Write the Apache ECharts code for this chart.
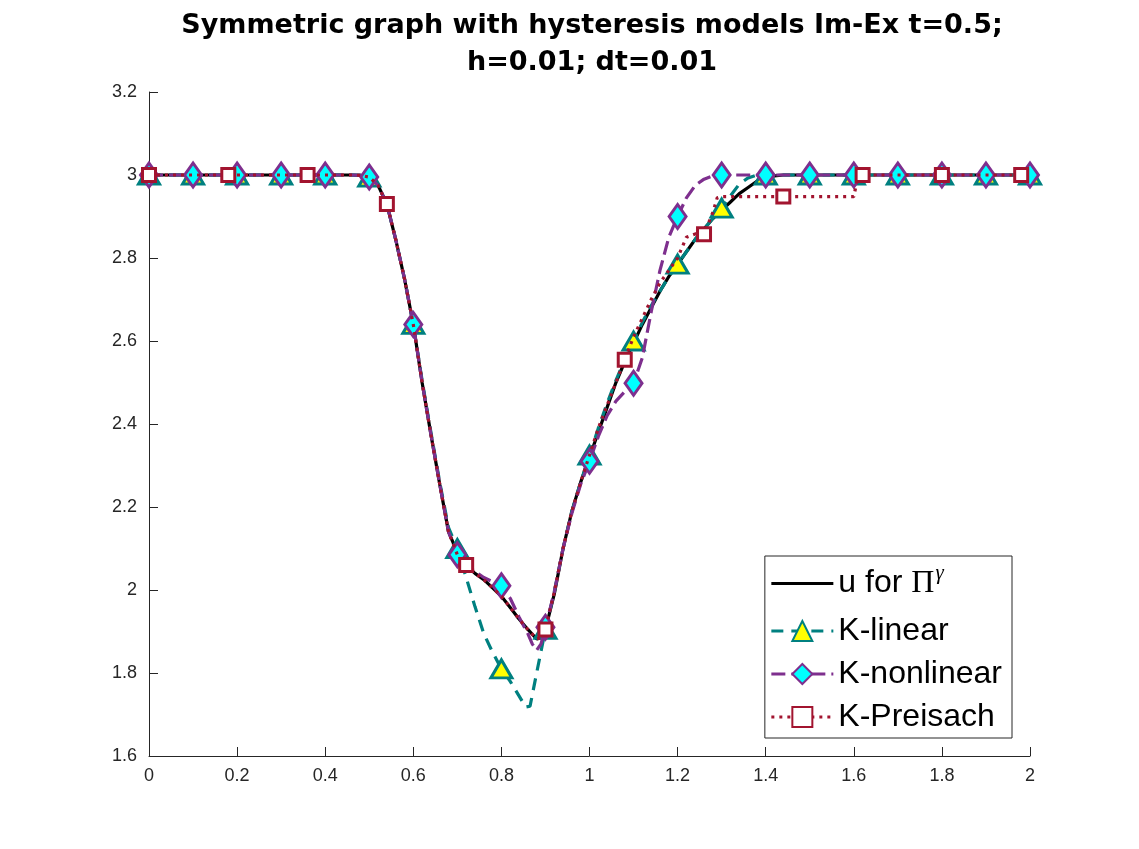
<!DOCTYPE html>
<html>
<head>
<meta charset="utf-8">
<script src="https://cdn.jsdelivr.net/npm/echarts@6/dist/echarts.min.js"></script>
<style>
  html, body { margin: 0; padding: 0; background: #fff; }
  #chart { width: 1139px; height: 849px; }
</style>
</head>
<body>
<div id="chart"></div>
<script>
// u for Pi^gamma (black solid)
var uX = [0,0.46,0.48,0.5,0.52,0.54,0.56,0.58,0.6,0.62,0.64,0.66,0.68,0.7,0.72,0.74,0.76,0.78,0.8,0.82,0.84,0.86,0.88,0.89,0.9,0.92,0.94,0.96,0.98,1.0,1.02,1.04,1.06,1.08,1.1,1.12,1.14,1.16,1.18,1.2,1.22,1.24,1.26,1.28,1.3,1.32,1.34,1.36,1.38,1.4,1.42,1.44,2.0];
var uY = [3,3,2.999,2.995,2.975,2.93,2.845,2.75,2.64,2.50,2.375,2.255,2.14,2.09,2.06,2.04,2.025,2.005,1.985,1.958,1.93,1.905,1.882,1.885,1.905,1.99,2.10,2.19,2.26,2.32,2.38,2.44,2.50,2.55,2.595,2.64,2.68,2.72,2.755,2.785,2.815,2.845,2.87,2.895,2.915,2.935,2.955,2.97,2.985,2.993,2.998,3,3];

// K-linear
var linX = [0,0.1,0.2,0.3,0.4,0.46,0.48,0.5,0.52,0.54,0.56,0.58,0.6,0.62,0.64,0.66,0.68,0.7,0.72,0.74,0.76,0.78,0.8,0.82,0.84,0.855,0.865,0.88,0.9,0.92,0.94,0.96,0.98,1.0,1.02,1.04,1.06,1.08,1.1,1.12,1.14,1.16,1.18,1.2,1.22,1.24,1.26,1.28,1.3,1.32,1.34,1.36,1.38,1.4,1.5,1.6,1.7,1.8,1.9,2.0];
var linY = [3,3,3,3,3,3,2.999,2.995,2.975,2.93,2.845,2.75,2.64,2.505,2.38,2.26,2.15,2.10,2.03,1.96,1.895,1.85,1.81,1.78,1.745,1.718,1.72,1.80,1.905,1.995,2.10,2.19,2.26,2.325,2.39,2.45,2.505,2.555,2.60,2.645,2.685,2.72,2.755,2.785,2.815,2.845,2.87,2.895,2.92,2.95,2.978,2.993,3,3,3,3,3,3,3,3];

// K-nonlinear
var nlX = [0,0.1,0.2,0.3,0.4,0.46,0.48,0.5,0.52,0.54,0.56,0.58,0.6,0.62,0.64,0.66,0.68,0.7,0.72,0.74,0.76,0.78,0.8,0.82,0.84,0.86,0.87,0.88,0.89,0.9,0.92,0.94,0.96,0.98,1.0,1.02,1.04,1.06,1.08,1.1,1.12,1.14,1.16,1.18,1.2,1.22,1.24,1.26,1.28,1.3,1.4,1.5,1.6,1.7,1.8,1.9,2.0];
var nlY = [3,3,3,3,3,3,2.999,2.995,2.975,2.93,2.845,2.75,2.64,2.50,2.375,2.255,2.14,2.085,2.06,2.045,2.03,2.02,2.01,1.98,1.935,1.895,1.87,1.855,1.87,1.91,1.995,2.10,2.185,2.255,2.31,2.37,2.42,2.455,2.478,2.498,2.56,2.67,2.77,2.85,2.90,2.945,2.975,2.99,2.998,3,3,3,3,3,3,3,3];

// K-Preisach
var prX = [0,0.18,0.36,0.46,0.48,0.5,0.52,0.54,0.56,0.58,0.6,0.62,0.64,0.66,0.68,0.7,0.72,0.74,0.76,0.78,0.8,0.82,0.84,0.86,0.88,0.89,0.9,0.92,0.94,0.96,0.98,1.0,1.02,1.04,1.06,1.08,1.1,1.12,1.14,1.16,1.18,1.2,1.22,1.24,1.26,1.28,1.29,1.3,1.44,1.6,1.61,1.62,1.8,1.98,2.0];
var prY = [3,3,3,3,2.999,2.995,2.975,2.93,2.845,2.75,2.64,2.50,2.375,2.255,2.14,2.085,2.06,2.04,2.025,2.005,1.985,1.958,1.93,1.905,1.882,1.885,1.905,1.995,2.10,2.19,2.26,2.325,2.39,2.445,2.50,2.555,2.61,2.655,2.70,2.74,2.77,2.80,2.85,2.858,2.857,2.91,2.945,2.948,2.948,2.948,3,3,3,3,3];

// where the markers sit
var tenthMarks = [0,0.1,0.2,0.3,0.4,0.5,0.6,0.7,0.8,0.9,1.0,1.1,1.2,1.3,1.4,1.5,1.6,1.7,1.8,1.9,2.0];
var squareMarks = [0,0.18,0.36,0.54,0.72,0.9,1.08,1.26,1.44,1.62,1.8,1.98];

function build(xs, ys, marks) {
  return xs.map(function (x, i) {
    var hit = marks.some(function (m) { return Math.abs(m - x) < 1e-6; });
    return hit ? { value: [x, ys[i]] } : { value: [x, ys[i]], symbol: 'none' };
  });
}

var chart = echarts.init(document.getElementById('chart'));
var axisCol = '#262626';
var sans = 'Liberation Sans, Arial, sans-serif';

chart.setOption({
  animation: false,
  title: {
    text: 'Symmetric graph with hysteresis models Im-Ex t=0.5;\nh=0.01; dt=0.01',
    left: 587,
    textAlign: 'center',
    top: 2,
    textStyle: { fontFamily: 'DejaVu Sans', fontSize: 27, fontWeight: 'bold', color: '#000', lineHeight: 37 }
  },
  grid: { left: 149, right: 109, top: 92, bottom: 93 },
  xAxis: {
    type: 'value', min: 0, max: 2, interval: 0.2,
    axisLine: { lineStyle: { color: axisCol, width: 1 } },
    axisTick: { inside: true, length: 9, lineStyle: { color: axisCol } },
    axisLabel: { color: axisCol, fontSize: 18, fontFamily: sans, margin: 11,
      formatter: function (v) { return String(+v.toFixed(1)); } },
    splitLine: { show: false }
  },
  yAxis: {
    type: 'value', min: 1.6, max: 3.2, interval: 0.2,
    axisLine: { show: true, lineStyle: { color: axisCol, width: 1 } },
    axisTick: { show: true, inside: true, length: 9, lineStyle: { color: axisCol } },
    axisLabel: { color: axisCol, fontSize: 18, fontFamily: sans, margin: 12,
      formatter: function (v) { return String(+v.toFixed(1)); } },
    splitLine: { show: false }
  },
  legend: {
    orient: 'vertical',
    right: 127, bottom: 111,
    backgroundColor: '#fff',
    borderColor: '#262626', borderWidth: 1,
    padding: [7, 10, 5, 5],
    itemWidth: 62, itemHeight: 25, itemGap: 11,
    lineStyle: { width: 3 },
    data: [
      { name: 'u for Pi', itemStyle: { opacity: 0 } },
      'K-linear', 'K-nonlinear', 'K-Preisach'
    ],
    formatter: function (name) {
      if (name === 'u for Pi') return '{t|u for }{p|\u03A0}{s|\u03B3}';
      return '{t|' + name + '}';
    },
    textStyle: {
      color: '#000',
      rich: {
        t: { fontFamily: sans, fontSize: 32, color: '#000', lineHeight: 40 },
        p: { fontFamily: 'Liberation Serif, Times New Roman', fontSize: 32, color: '#000', lineHeight: 40 },
        s: { fontFamily: 'Liberation Serif, Times New Roman', fontStyle: 'italic', fontSize: 21, color: '#000', lineHeight: 40, padding: [0, 0, 20, 1] }
      }
    }
  },
  series: [
    {
      name: 'u for Pi', type: 'line', z: 2,
      data: uX.map(function (x, i) { return [x, uY[i]]; }),
      symbol: 'none', showSymbol: false,
      lineStyle: { color: '#000', width: 3.2 },
      itemStyle: { color: '#000' }
    },
    {
      name: 'K-linear', type: 'line', z: 3,
      data: build(linX, linY, tenthMarks),
      symbol: 'triangle', symbolSize: [21, 18], showAllSymbol: true,
      lineStyle: { color: '#008080', width: 3.2, type: [12, 8] },
      itemStyle: { color: '#FFFF00', borderColor: '#008080', borderWidth: 3 }
    },
    {
      name: 'K-nonlinear', type: 'line', z: 4,
      data: build(nlX, nlY, tenthMarks),
      symbol: 'diamond', symbolSize: [17, 24], showAllSymbol: true,
      lineStyle: { color: '#7E2F8E', width: 3.2, type: [14, 6] },
      itemStyle: { color: '#00FFFF', borderColor: '#7E2F8E', borderWidth: 3 }
    },
    {
      name: 'K-Preisach', type: 'line', z: 5,
      data: build(prX, prY, squareMarks),
      symbol: 'rect', symbolSize: 13, showAllSymbol: true,
      lineStyle: { color: '#A2142F', width: 3.2, type: [3, 5] },
      itemStyle: { color: '#FFFFFF', borderColor: '#A2142F', borderWidth: 3 }
    }
  ]
});
</script>
</body>
</html>
